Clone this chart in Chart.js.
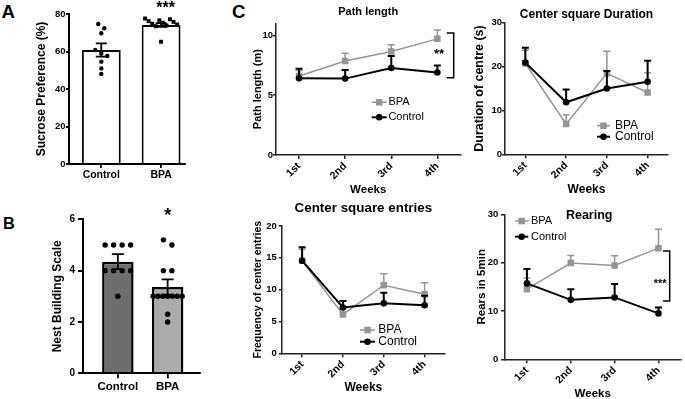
<!DOCTYPE html>
<html><head><meta charset="utf-8">
<script src="https://cdn.jsdelivr.net/npm/chart.js@4.4.1/dist/chart.umd.min.js"></script>
<style>
html,body{margin:0;padding:0;background:#fff;overflow:hidden;}
#wrap{position:relative;width:685px;height:399px;background:#fff;}
#wrap canvas{position:absolute;}
.lt{position:absolute;font-family:"Liberation Sans",Arial,sans-serif;font-weight:bold;line-height:1;color:#000;}
</style></head><body>
<div id="wrap">
<div class="lt" style="left:1.5px;top:2.6px;font-size:18.6px">A</div>
<div class="lt" style="left:3px;top:214.5px;font-size:16.3px">B</div>
<div class="lt" style="left:232px;top:2.6px;font-size:18.6px">C</div>
</div>
<script>
// ---------------- data ----------------
const groups = ['Control', 'BPA'];
const sucroseMean = [60.8, 74.1];
const sucroseSem = [3.5, 1.0];
const sucroseControl = [74.7, 72.4, 69.7, 60.8, 59.0, 57.6, 54.6, 51.0, 48.0];
const sucroseBpa = [77.6, 77.2, 76.6, 76.2, 75.8, 75.3, 74.8, 74.4, 73.9, 73.5, 65.2];
const nestMean = [4.35, 3.36];
const nestSem = [0.29, 0.30];
const nestControl = [5, 5, 5, 5, 4, 4, 4, 4, 3];
const nestBpa = [5.2, 5, 4, 4, 3, 3, 3, 3, 3, 3, 3, 2.3, 2];

const weeks = ['1st', '2nd', '3rd', '4th'];
const seriesNames = ['BPA', 'Control'];
const pathBpa = [6.6, 7.85, 8.65, 9.7];
const pathBpaSem = [0.45, 0.65, 0.55, 0.75];
const pathControl = [6.4, 6.38, 7.27, 6.89];
const pathControlSem = [0.8, 0.72, 1.0, 0.58];
const durBpa = [20.7, 6.9, 18.45, 14.1];
const durBpaSem = [3.0, 2.1, 5.05, 4.5];
const durControl = [20.9, 11.85, 15.0, 16.55];
const durControlSem = [3.4, 2.95, 4.0, 4.75];
const entBpa = [14.55, 6.1, 10.7, 9.27];
const entBpaSem = [1.8, 0.9, 1.8, 1.83];
const entControl = [14.55, 7.2, 7.85, 7.54];
const entControlSem = [2.1, 1.0, 1.65, 1.5];
const rearBpa = [14.5, 19.9, 19.4, 23.0];
const rearBpaSem = [2.3, 1.6, 2.0, 3.9];
const rearControl = [15.7, 12.3, 12.8, 9.5];
const rearControlSem = [3.0, 2.2, 2.8, 1.2];

// ---------------- setup ----------------
const FONT = '"Liberation Sans", Arial, sans-serif';
Chart.defaults.font.family = FONT;
Chart.defaults.color = '#000';
const GRAY = '#959595';

function makeCanvas(id, left, top, w, h) {
  const c = document.createElement('canvas');
  c.id = id; c.width = w; c.height = h;
  c.style.left = left + 'px'; c.style.top = top + 'px';
  c.style.width = w + 'px'; c.style.height = h + 'px';
  document.getElementById('wrap').appendChild(c);
  return c;
}

function drawErr(chart, index, when) {
  const ds = chart.data.datasets[index];
  if (!ds.sem || (ds.errLayer || 'before') !== when) return;
  const meta = chart.getDatasetMeta(index);
  const ys = chart.scales[meta.yAxisID];
  const ctx = chart.ctx;
  ctx.save();
  ctx.strokeStyle = ds.errColor; ctx.lineWidth = ds.errWidth;
  meta.data.forEach((el, i) => {
    const d = ds.data[i];
    const v = (typeof d === 'object') ? d.y : d;
    const s = ds.sem[i];
    const yTop = ys.getPixelForValue(v + s);
    const yBot = ds.errBoth ? ys.getPixelForValue(v - s) : ys.getPixelForValue(v);
    const x = el.x, c = ds.errCap;
    ctx.beginPath();
    ctx.moveTo(x, yBot); ctx.lineTo(x, yTop);
    ctx.moveTo(x - c, yTop); ctx.lineTo(x + c, yTop);
    if (ds.errBoth) { ctx.moveTo(x - c, yBot); ctx.lineTo(x + c, yBot); }
    ctx.stroke();
  });
  ctx.restore();
}
const errorBarPlugin = {
  id: 'errorBars',
  beforeDatasetDraw(chart, args) { drawErr(chart, args.index, 'before'); },
  afterDatasetDraw(chart, args) { drawErr(chart, args.index, 'after'); }
};

const decorPlugin = {
  id: 'decor',
  afterDraw(chart, args, o) {
    const ctx = chart.ctx, area = chart.chartArea;
    const xs = chart.scales.x, ys = chart.scales.y;
    ctx.save();
    if (o.title) {
      ctx.font = 'bold ' + o.title.size + 'px ' + FONT;
      ctx.fillStyle = '#000'; ctx.textAlign = 'center'; ctx.textBaseline = 'middle';
      ctx.fillText(o.title.text, (area.left + area.right) / 2 + (o.title.dx || 0), o.title.y);
    }
    if (o.legend) {
      const L = o.legend;
      chart.data.datasets.forEach((ds, i) => {
        if (ds.type === 'scatter' || ds.type === 'bar') return;
        const y = L.y + i * L.gap;
        ctx.strokeStyle = ds.borderColor; ctx.lineWidth = ds.borderWidth;
        ctx.beginPath(); ctx.moveTo(L.x, y); ctx.lineTo(L.x + L.len, y); ctx.stroke();
        ctx.fillStyle = ds.pointBackgroundColor; ctx.strokeStyle = ds.pointBackgroundColor;
        Chart.helpers.drawPoint(ctx, {pointStyle: ds.pointStyle, radius: ds.pointRadius, rotation: 0, borderWidth: 0}, L.x + L.len / 2, y);
        ctx.fillStyle = '#000';
        ctx.font = L.size + 'px ' + FONT; ctx.textAlign = 'left'; ctx.textBaseline = 'middle';
        ctx.fillText(ds.label, L.x + L.len + L.tgap, y);
      });
    }
    (o.brackets || []).forEach(b => {
      const x = area.right + b.dx;
      const y1 = ys.getPixelForValue(b.yFrom), y2 = ys.getPixelForValue(b.yTo);
      ctx.strokeStyle = '#000'; ctx.lineWidth = 1.5;
      ctx.beginPath();
      ctx.moveTo(x - b.tick, y1); ctx.lineTo(x, y1); ctx.lineTo(x, y2); ctx.lineTo(x - b.tick, y2);
      ctx.stroke();
    });
    (o.stars || []).forEach(s => {
      ctx.font = 'bold ' + s.size + 'px ' + FONT;
      ctx.fillStyle = '#000'; ctx.textAlign = 'center'; ctx.textBaseline = 'alphabetic';
      const x = xs.getPixelForValue(s.xv) + (s.dx || 0);
      const y = ys.getPixelForValue(s.yv) + 0.56 * s.size;
      ctx.fillText(s.text, x, y);
    });
    ctx.restore();
  }
};

function gcd(a, b) { return b ? gcd(b, a % b) : a; }
// horizontal spread of dots (layout only, deterministic)
function spread(values, groupIndex, pxPerY, pxPerX, thresh, step, maxW) {
  const order = values.map((v, i) => i).sort((a, b) => values[b] - values[a]);
  const off = new Array(values.length).fill(0);
  let grp = [], prev = null;
  const flush = () => {
    const n = grp.length;
    if (!n) return;
    const s = n > 1 ? Math.min(step, maxW / (n - 1)) : 0;
    let k = 1;
    if (n > 4) { k = Math.round(n * 0.38); while (gcd(k, n) !== 1) k++; }
    grp.forEach((idx, j) => { const p = (j * k) % n; off[idx] = (p - (n - 1) / 2) * s / pxPerX; });
    grp = [];
  };
  order.forEach(i => {
    if (prev !== null && (values[prev] - values[i]) * pxPerY > thresh) flush();
    grp.push(i); prev = i;
  });
  flush();
  return values.map((v, i) => ({x: groupIndex + off[i], y: v}));
}

function axisY(o, area) {
  return {
    min: 0, max: o.yMax,
    ticks: {stepSize: o.yStep, includeBounds: false, font: {size: o.tickSize, weight: 'bold'}, padding: o.yPad, color: '#000'},
    grid: {drawOnChartArea: false, tickLength: o.yTick, color: o.axisColor, lineWidth: o.axisW},
    border: {color: o.axisColor, width: o.axisW},
    title: {display: true, text: o.yTitle, color: '#000', font: {size: o.yTitleSize, weight: 'bold'}, padding: {top: o.yTitleCenter - o.yTitleSize * 0.6, bottom: 0}},
    afterFit: s => { s.width = area.l; }
  };
}

function makeBar(id, cv, area, o) {
  const c = makeCanvas(id, cv.left, cv.top, cv.w, cv.h);
  const pxPerX = (area.r - area.l) / (o.xMax - o.xMin);
  const pxPerY = (area.b - area.t) / o.yMax;
  return new Chart(c, {
    type: 'bar',
    data: {
      datasets: [
        {type: 'scatter', label: 'Control points', data: spread(o.ctlPts, 0, pxPerY, pxPerX, o.thresh, o.step, o.maxW),
         pointStyle: 'circle', pointRadius: o.ctlR, backgroundColor: '#000', borderWidth: 0, order: 1},
        {type: 'scatter', label: 'BPA points', data: spread(o.bpaPts, 1, pxPerY, pxPerX, o.thresh, o.step, o.maxW),
         pointStyle: o.bpaStyle, pointRadius: o.bpaR, backgroundColor: '#000', borderWidth: 0, order: 1},
        {type: 'bar', label: 'Mean', data: groups.map((g, i) => ({x: i, y: o.mean[i]})),
         backgroundColor: o.fill, borderColor: '#000', borderWidth: o.barBorder, borderSkipped: 'start',
         barPercentage: 1, categoryPercentage: o.catPct, order: 3,
         sem: o.sem, errBoth: true, errLayer: 'after', errColor: '#000', errWidth: 1.8, errCap: o.cap}
      ]
    },
    options: {
      responsive: false, animation: false, devicePixelRatio: 1,
      layout: {padding: {left: 0, top: area.t, right: cv.w - area.r, bottom: 0}},
      plugins: {legend: {display: false}, tooltip: {enabled: false},
        decor: {stars: o.stars}},
      scales: {
        x: {type: 'linear', min: o.xMin, max: o.xMax, offset: false, bounds: 'data', grace: 0,
          afterBuildTicks: s => { s.ticks = groups.map((g, i) => ({value: i})); },
          ticks: {callback: v => groups[v], font: {size: o.xTickSize, weight: 'bold'}, padding: o.xPad, maxRotation: 0, color: '#000'},
          grid: {drawOnChartArea: false, offset: false, tickLength: o.xTick, color: '#000', lineWidth: 1.8},
          border: {color: '#000', width: 2},
          afterFit: s => { s.height = cv.h - area.b; }},
        y: axisY(o, area)
      }
    },
    plugins: [errorBarPlugin, decorPlugin]
  });
}

function makeLine(id, cv, area, o) {
  const c = makeCanvas(id, cv.left, cv.top, cv.w, cv.h);
  return new Chart(c, {
    type: 'line',
    data: {
      labels: weeks,
      datasets: [
        {label: seriesNames[0], data: o.bpa, borderColor: GRAY, backgroundColor: GRAY, borderWidth: 1.5,
         pointStyle: 'rect', pointRadius: 4.6, pointBorderWidth: 0, pointBackgroundColor: GRAY, tension: 0, order: 2,
         sem: o.bpaSem, errColor: GRAY, errWidth: 1.5, errCap: 3.5},
        {label: seriesNames[1], data: o.ctl, borderColor: '#000', backgroundColor: '#000', borderWidth: 2,
         pointStyle: 'circle', pointRadius: 3.3, pointBorderWidth: 0, pointBackgroundColor: '#000', tension: 0, order: 1,
         sem: o.ctlSem, errColor: '#000', errWidth: 2, errCap: 3.5}
      ]
    },
    options: {
      responsive: false, animation: false, devicePixelRatio: 1,
      layout: {padding: {left: 0, top: area.t, right: cv.w - area.r, bottom: 0}},
      plugins: {legend: {display: false}, tooltip: {enabled: false},
        decor: {title: o.title, legend: o.legend, brackets: o.brackets || [], stars: o.stars || []}},
      scales: {
        x: {type: 'category', offset: true,
          ticks: {minRotation: 45, maxRotation: 45, autoSkip: false, font: {size: 10.5, weight: 'bold'}, padding: 1, color: '#000'},
          grid: {drawOnChartArea: false, tickLength: 4, color: '#222', lineWidth: 1.5},
          border: {color: '#222', width: 1.5},
          title: {display: true, text: 'Weeks', color: '#000', font: {size: o.xTitleSize, weight: 'bold'}, padding: {top: 0, bottom: o.xTitlePad}},
          afterFit: s => { s.height = cv.h - area.b; }},
        y: axisY(Object.assign({axisColor: '#222', axisW: 1.5, tickSize: 9.5}, o), area)
      }
    },
    plugins: [errorBarPlugin, decorPlugin]
  });
}

// ---------------- panels ----------------
makeBar('cA', {left: 0, top: 0, w: 230, h: 190}, {l: 69, r: 185, t: 14, b: 164}, {
  xMin: -0.54, xMax: 1.4, yMax: 80, yStep: 20, mean: sucroseMean, sem: sucroseSem,
  ctlPts: sucroseControl, bpaPts: sucroseBpa, ctlR: 2.2, bpaR: 2.8, bpaStyle: 'rect',
  thresh: 4.5, step: 6, maxW: 32, fill: '#ffffff', barBorder: 2, catPct: 0.65, cap: 5.5,
  tickSize: 9.5, yPad: 0.5, yTick: 3, axisColor: '#000', axisW: 2,
  xTickSize: 10.5, xPad: 1, xTick: 4,
  yTitle: 'Sucrose Preference (%)', yTitleSize: 12, yTitleCenter: 42,
  stars: [{xv: 1, dx: 4.5, yv: 85.3, text: '***', size: 16}]
});

makeBar('cB', {left: 0, top: 190, w: 230, h: 209}, {l: 83, r: 200, t: 29.3, b: 183.3}, {
  xMin: -0.7, xMax: 1.65, yMax: 6, yStep: 2, mean: nestMean, sem: nestSem,
  ctlPts: nestControl, bpaPts: nestBpa, ctlR: 2.7, bpaR: 2.7, bpaStyle: 'circle',
  thresh: 6, step: 8.5, maxW: 29, fill: ['#6e6e6e', '#ababab'], barBorder: 2.5, catPct: 0.632, cap: 6,
  tickSize: 10, yPad: 3, yTick: 5, axisColor: '#000', axisW: 2,
  xTickSize: 11.5, xPad: 2, xTick: 5,
  yTitle: 'Nest Building Scale', yTitleSize: 12, yTitleCenter: 58,
  stars: [{xv: 1, yv: 6.33, text: '*', size: 18}]
});

makeLine('cPL', {left: 230, top: 0, w: 235, h: 200}, {l: 46, r: 231.7, t: 23.3, b: 155}, {
  bpa: pathBpa, bpaSem: pathBpaSem, ctl: pathControl, ctlSem: pathControlSem,
  yMax: 11, yStep: 5, yPad: 0, yTick: 3,
  yTitle: 'Path length (m)', yTitleSize: 11, yTitleCenter: 28,
  xTitleSize: 11.5, xTitlePad: 3.1,
  title: {text: 'Path length', y: 11.7, size: 11},
  legend: {x: 141.7, y: 102.3, gap: 15, len: 15, tgap: 1.7, size: 11},
  brackets: [{dx: -6.7, yFrom: 10.2, yTo: 6.45, tick: 7}],
  stars: [{xv: 3, dx: 1.7, yv: 8.68, text: '**', size: 13}]
});

makeLine('cDUR', {left: 465, top: 0, w: 220, h: 200}, {l: 40, r: 203, t: 22.7, b: 154.3}, {
  bpa: durBpa, bpaSem: durBpaSem, ctl: durControl, ctlSem: durControlSem,
  yMax: 30, yStep: 10, yPad: 0, yTick: 3,
  yTitle: 'Duration of centre (s)', yTitleSize: 12.5, yTitleCenter: 15,
  xTitleSize: 12, xTitlePad: 2.8,
  title: {text: 'Center square Duration', y: 15, size: 12},
  legend: {x: 132, y: 125.7, gap: 11, len: 13, tgap: 5, size: 12}
});

makeLine('cENT', {left: 230, top: 195, w: 235, h: 204}, {l: 51.7, r: 215, t: 31, b: 158.3}, {
  bpa: entBpa, bpaSem: entBpaSem, ctl: entControl, ctlSem: entControlSem,
  yMax: 20, yStep: 5, yPad: 2, yTick: 3,
  yTitle: 'Frequency of center entries', yTitleSize: 10.5, yTitleCenter: 28,
  xTitleSize: 12, xTitlePad: 4.1,
  title: {text: 'Center square entries', y: 13.3, size: 13.4},
  legend: {x: 130, y: 135, gap: 11.7, len: 15, tgap: 3.3, size: 12}
});

makeLine('cREAR', {left: 465, top: 195, w: 220, h: 204}, {l: 40, r: 219, t: 19.3, b: 164.3}, {
  bpa: rearBpa, bpaSem: rearBpaSem, ctl: rearControl, ctlSem: rearControlSem,
  yMax: 30, yStep: 10, yPad: 2.7, yTick: 4,
  yTitle: 'Rears in 5min', yTitleSize: 11.5, yTitleCenter: 16.7,
  xTitleSize: 11.5, xTitlePad: -2.2,
  title: {text: 'Rearing', y: 20.7, size: 12.5, dx: -3.5},
  legend: {x: 50, y: 26, gap: 15.7, len: 13.3, tgap: 2.7, size: 11},
  brackets: [{dx: -10.7, yFrom: 22.4, yTo: 12.07, tick: 6.7}],
  stars: [{xv: 3, dx: 1.6, yv: 16.2, text: '***', size: 11}]
});
</script>
</body></html>
